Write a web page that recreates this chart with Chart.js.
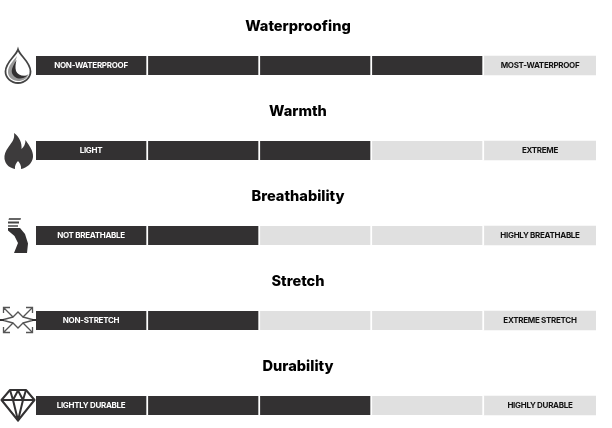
<!DOCTYPE html>
<html lang="en">
<head>
    <meta charset="UTF-8">
    <title>Fabric Ratings</title>
    <script src="https://cdnjs.cloudflare.com/ajax/libs/Chart.js/4.4.1/chart.umd.min.js"></script>
    <style>
        html, body { margin: 0; padding: 0; background: #fff; overflow: hidden; }
        .row { position: relative; width: 612px; height: 85px; }
        .row canvas { position: absolute; left: 0; top: 0; }
        .row svg { position: absolute; left: 0; top: 0; }
    </style>
</head>
<body>
    <div class="row">
        <canvas id="chart0" width="612" height="85"></canvas>
        <svg width="36" height="85" viewBox="0 0 36 85">
            <path d="M18 49.5C16 56 5.500 62 5.500 71.500A12.500 11.500 0 0 0 30.500 71.500C30.500 62 20 56 18 49.500Z" fill="#fff" stroke="#444" stroke-width="1.800"/>
            <path d="M17 56C13 61 8 66 8 72C8 77.500 13 81 18 81C23 81 27.500 78.500 28.500 74C24 77.500 17 77 15 72C13.500 67.500 15.500 61 17 56Z" fill="#999"/>
            <path d="M16.500 60C13.500 65 11 69 12 73C14 79 22 80.500 27.500 75.500C22 76.500 17.500 75 16 71C15 67.500 15.500 64 16.500 60Z" fill="#333132"/>
        </svg>
    </div>
    <div class="row">
        <canvas id="chart1" width="612" height="85"></canvas>
        <svg width="36" height="85" viewBox="0 0 36 85">
            <path d="M14 48C15 54 12 57 8.500 62C5.500 66 4 70 4.500 74C5.500 80 10 83 15 84C14.500 81 16 78 18 76C20 78 21.500 81 21 84C27 83 32.500 78 33 72C33.500 66 29.500 61 25.500 55C25.500 59 24 62 21.500 64C22 58 19.500 52 14 48Z" fill="#3d3b3c"/>
        </svg>
    </div>
    <div class="row">
        <canvas id="chart2" width="612" height="85"></canvas>
        <svg width="36" height="85" viewBox="0 0 36 85">
            <path d="M9 48H21L20.500 50H8.500Z" fill="#666"/>
            <path d="M8 51.500H19V53.500H8Z" fill="#444"/>
            <path d="M8 55H18V57H8Z" fill="#777"/>
            <path d="M8 58H20L25 64L28 73.500L27 83H14L18 73L14.500 66L8 60.500Z" fill="#333132"/>
        </svg>
    </div>
    <div class="row">
        <canvas id="chart3" width="612" height="85"></canvas>
        <svg width="36" height="85" viewBox="0 0 36 85">
            <g fill="none" stroke="#555" stroke-width="1.300">
                <path d="M3.500 58V52.500H10M4 53L13 62L18 57L23 62L32 53"/>
                <path d="M32.500 58V52.500H26"/>
                <path d="M3.500 72V77.500H10M4 77L13 68L18 73L23 68L32 77"/>
                <path d="M32.500 72V77.500H26"/>
                <path d="M2 65L13 62M2 65L13 68M34 65L23 62M34 65L23 68"/>
            </g>
            <path d="M0 64H4V66H0ZM32 64H36V66H32Z" fill="#333132"/>
        </svg>
    </div>
    <div class="row">
        <canvas id="chart4" width="612" height="85"></canvas>
        <svg width="36" height="85" viewBox="0 0 36 85">
            <g fill="none" stroke="#333132" stroke-width="2" stroke-linejoin="round">
                <path d="M10 50H26L34.500 60L18 80.500L1.500 60Z"/>
                <path d="M1.500 60H34.500M10 50L13 60L18 80.500L23 60L26 50M13 60L18 50.500L23 60"/>
            </g>
        </svg>
    </div>

    <script>
        const titles = ['Waterproofing', 'Warmth', 'Breathability', 'Stretch', 'Durability'];
        const lowLabels = ['NON-WATERPROOF', 'LIGHT', 'NOT BREATHABLE', 'NON-STRETCH', 'LIGHTLY DURABLE'];
        const highLabels = ['MOST-WATERPROOF', 'EXTREME', 'HIGHLY BREATHABLE', 'EXTREME STRETCH', 'HIGHLY DURABLE'];
        const levels = [4, 3, 2, 2, 3];
        const segments = [1, 2, 3, 4, 5];

        const darkColor = '#333132';
        const lightColor = '#e0e0e0';

        // puts the end captions inside the first and last segment
        const segmentLabels = {
            id: 'segmentLabels',
            afterDatasetsDraw(chart, args, opts) {
                const ctx = chart.ctx;
                const first = chart.getDatasetMeta(0).data[0];
                const last = chart.getDatasetMeta(segments.length - 1).data[0];
                ctx.save();
                ctx.font = 'bold 8px Inter, sans-serif';
                ctx.letterSpacing = '-0.3px';
                ctx.textAlign = 'center';
                ctx.textBaseline = 'middle';
                ctx.fillStyle = '#ffffff';
                ctx.fillText(opts.low, first.base + 55, first.y);
                ctx.fillStyle = '#111111';
                ctx.fillText(opts.high, last.base + 56, last.y);
                ctx.restore();
            }
        };

        titles.forEach((title, i) => {
            new Chart(document.getElementById('chart' + i), {
                type: 'bar',
                plugins: [segmentLabels],
                data: {
                    labels: [title],
                    datasets: segments.map(seg => ({
                        data: [1],
                        backgroundColor: seg <= levels[i] ? darkColor : lightColor,
                        borderColor: '#ffffff',
                        borderWidth: seg < segments.length ? { right: 2, left: 0, top: 0, bottom: 0 } : 0,
                        borderSkipped: false,
                        barThickness: 19
                    }))
                },
                options: {
                    indexAxis: 'y',
                    responsive: false,
                    animation: false,
                    events: [],
                    layout: { padding: { left: 0, right: 16, top: 0, bottom: 0 } },
                    scales: {
                        x: { stacked: true, display: false, min: 0, max: segments.length },
                        y: {
                            stacked: true,
                            grid: { display: false },
                            border: { display: false },
                            ticks: { display: false },
                            afterFit: scale => { scale.width = 36; }
                        }
                    },
                    plugins: {
                        legend: { display: false },
                        tooltip: { enabled: false },
                        title: {
                            display: true,
                            text: title,
                            color: '#000000',
                            font: { family: 'Inter, sans-serif', size: 14.6, weight: '800', lineHeight: 1.2 },
                            padding: { top: 18, bottom: 10.500 }
                        },
                        segmentLabels: { low: lowLabels[i], high: highLabels[i] }
                    }
                }
            });
        });
    </script>
</body>
</html>
